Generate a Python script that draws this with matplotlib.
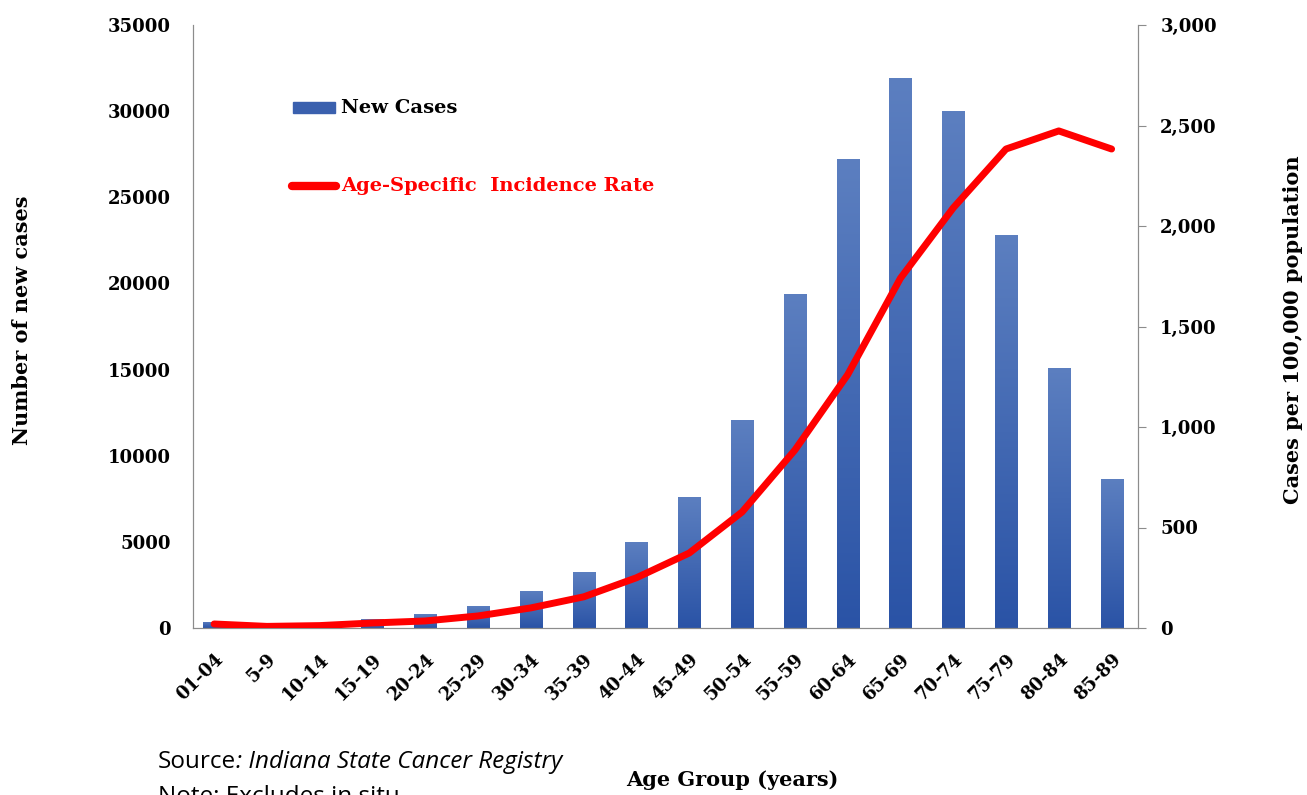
import numpy as np
import matplotlib.pyplot as plt
from matplotlib.colors import LinearSegmentedColormap

age_groups = ['01-04', '5-9', '10-14', '15-19', '20-24', '25-29', '30-34', '35-39', '40-44',
              '45-49', '50-54', '55-59', '60-64', '65-69', '70-74', '75-79', '80-84', '85-89']
new_cases = [350, 100, 200, 500, 800, 1280, 2150, 3250, 5000,
             7600, 12100, 19400, 27200, 31900, 30000, 22800, 15100, 8650]
incidence_rate = [20, 8, 12, 25, 35, 60, 100, 155, 250,
                  373, 577, 885, 1260, 1740, 2090, 2383, 2473, 2383]

serif = 'DejaVu Serif'
fig = plt.figure(figsize=(13.07, 7.95), dpi=100)
ax = fig.add_axes([193 / 1307, 1 - 628 / 795, (1138 - 193) / 1307, (628 - 25) / 795])
ax2 = ax.twinx()

x = np.arange(len(age_groups))
bars = ax.bar(x, new_cases, width=0.42, color='#3a60ae', zorder=2, label='New Cases')

# vertical gradient on each bar (lighter top, darker bottom)
grad = np.linspace(0, 1, 256).reshape(-1, 1)
cmap = LinearSegmentedColormap.from_list('bar', ['#2a53a6', '#5c7fc0'])
for b in bars:
    x0, y0 = b.get_x(), b.get_y()
    im = ax.imshow(grad, cmap=cmap, aspect='auto', origin='lower',
                   extent=[x0, x0 + b.get_width(), y0, y0 + b.get_height()], zorder=2)
    im.set_clip_path(b)

ax.set_xlim(-0.4, 17.5)
ax.set_ylim(0, 35000)
ax.set_yticks(range(0, 35001, 5000))
ax.set_yticklabels([str(v) for v in range(0, 35001, 5000)], fontfamily=serif,
                   fontweight='bold', fontsize=13)
ax.set_xticks(x)
ax.set_xticklabels(age_groups, rotation=45, ha='right', rotation_mode='anchor',
                   fontfamily=serif, fontweight='bold', fontsize=13)

ax2.plot(x, incidence_rate, color='#ff0000', lw=5, solid_capstyle='round', zorder=3)
ax2.set_ylim(0, 3000)
ax2.set_yticks(range(0, 3001, 500))
ax2.set_yticklabels(['0', '500', '1,000', '1,500', '2,000', '2,500', '3,000'],
                    fontfamily=serif, fontweight='bold', fontsize=13)
ax.set_xlim(-0.4, 17.5)

for a in (ax, ax2):
    a.spines['top'].set_visible(False)
    for s in ('left', 'right', 'bottom'):
        a.spines[s].set_color('#8c8c8c')
    a.tick_params(color='#8c8c8c', length=6)
ax.tick_params(axis='x', length=0, pad=16)
ax.tick_params(axis='y', length=0, pad=16)
ax2.tick_params(axis='y', pad=10)

fig.text(22 / 1307, 1 - 320 / 795, 'Number of new cases', rotation=90, ha='center', va='center',
         fontfamily=serif, fontweight='bold', fontsize=15)
fig.text(1293 / 1307, 1 - 330 / 795, 'Cases per 100,000 population', rotation=90,
         ha='center', va='center', fontfamily=serif, fontweight='bold', fontsize=15)
fig.text(732 / 1307, 1 - 780 / 795, 'Age Group (years)', ha='center', va='center',
         fontfamily=serif, fontweight='bold', fontsize=15)

# source note: plain "Source" followed by italic registry name
src = fig.text(158 / 1307, 1 - 762 / 795, 'Source', fontsize=17.5, va='center',
               fontfamily='Open Sans')
fig.canvas.draw()
bb = src.get_window_extent()
fig.text(bb.x1 / fig.bbox.width, 1 - 762 / 795, ': Indiana State Cancer Registry', fontsize=17.5,
         va='center', style='italic', fontfamily='Open Sans')
fig.text(158 / 1307, 1 - 797 / 795, 'Note: Excludes in situ', fontsize=17.5, va='center',
         fontfamily='Open Sans')

# legend drawn manually
ax.add_patch(plt.Rectangle((293 / 1307, 1 - 113 / 795), 42 / 1307, 11 / 795,
                           transform=fig.transFigure, color='#3a60ae', clip_on=False))
fig.text(341 / 1307, 1 - 108 / 795, 'New Cases', fontfamily=serif, fontweight='bold',
         fontsize=14, va='center')
fig.add_artist(plt.Line2D([292 / 1307, 336 / 1307], [1 - 186 / 795, 1 - 186 / 795],
                          color='#ff0000', lw=6, solid_capstyle='round'))
fig.text(341 / 1307, 1 - 186 / 795, 'Age-Specific  Incidence Rate', fontfamily=serif,
         fontweight='bold', fontsize=14, va='center', color='#ff0000')

fig.savefig('out.png', dpi=100)
